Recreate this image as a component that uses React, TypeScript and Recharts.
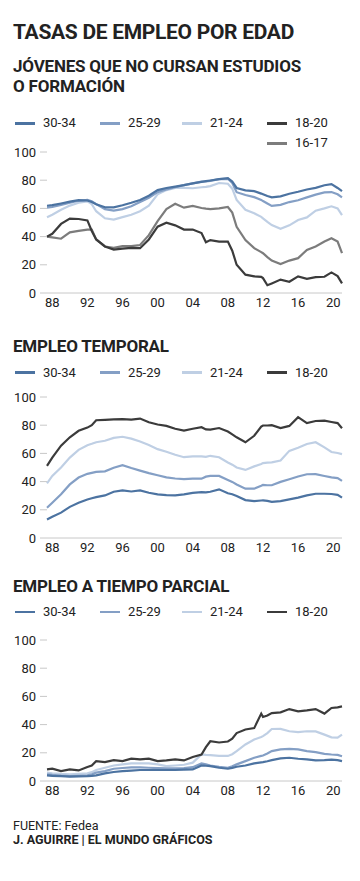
import React from "react";
import { LineChart, Line, XAxis, YAxis } from "recharts";

// años (fracción = trimestre aproximado)
const years = [
  1987.4, 1988, 1989, 1990, 1991, 1992, 1992.5, 1993, 1994, 1995, 1996, 1997, 1998, 1999, 2000,
  2001, 2002, 2003, 2004, 2005, 2005.5, 2006, 2007, 2008, 2008.5, 2009, 2010, 2011, 2011.8,
  2012, 2012.5, 2013, 2014, 2015, 2016, 2017, 2018, 2019, 2019.8, 2020.5, 2021,
];

const xTicks = [1988, 1992, 1996, 2000, 2004, 2008, 2012, 2016, 2020];
const yTicks = [0, 20, 40, 60, 80, 100];

// Jóvenes que no cursan estudios o formación
const ninis3034 = [
  61.9, 62.3, 63.5, 64.8, 65.9, 65.6, 64.5, 63, 60.8, 60.7, 62.2, 64, 66, 69, 73,
  74.5, 75.5, 76.5, 77.8, 78.8, 79.3, 79.8, 80.8, 81.5, 79, 74.5, 72.8, 72.2, 70.5,
  70, 68.8, 67.8, 68.5, 70.4, 71.8, 73.4, 74.6, 76.4, 77.2, 74.5, 72.2,
];
const ninis2529 = [
  60.5, 61, 62.5, 64, 65.4, 66, 65, 63, 59.5, 58.5, 59.5, 61.5, 64.5, 67.5, 71.5,
  73.5, 75, 76.5, 77.8, 79, 79.2, 79.5, 80.8, 81, 78, 71.5, 69.5, 68, 66,
  65.2, 63.5, 61.8, 62.5, 64.5, 65.8, 67.8, 69.8, 71.3, 71.6, 70, 67.8,
];
const ninis2124 = [
  53.8, 55.5, 59, 62, 64, 65, 63, 58, 53, 52, 53.8, 55.5, 58, 62, 70,
  73, 74.5, 74.5, 74.3, 75, 75.3, 75.8, 78, 77.5, 74, 66, 59, 56.5, 54,
  53, 50.5, 48.2, 45.5, 48, 51.8, 53.6, 58.4, 60, 61.5, 60, 55.3,
];
const ninis1820 = [
  40, 42, 49, 52.8, 52.5, 51.5, 44, 38, 33, 30.8, 31.5, 32, 31.8, 38, 47,
  49.8, 48, 45, 45, 42.5, 36, 37.5, 36.5, 36.5, 30, 20, 13, 11.8, 11.5,
  10.6, 5.5, 6.8, 9.5, 8, 11.8, 10, 11.3, 11.5, 14.6, 12, 6.8,
];
const ninis1617 = [
  40, 39.5, 38.5, 43, 44, 45, 45, 38, 33, 32, 33.2, 33.2, 34, 41, 51,
  59.5, 63.3, 60.5, 61.8, 60.3, 59.8, 59.5, 60, 61, 57, 47, 37.5, 31.8, 29,
  28.2, 25.5, 23, 20.5, 23, 24.7, 30.6, 33, 36.5, 38.8, 36.5, 28.2,
];

// Empleo temporal
const temp3034 = [
  13.1, 15, 18, 22.1, 25, 27.3, 28.2, 29, 30.2, 32.8, 33.8, 33, 33.8, 32.1, 31,
  30.4, 30.2, 31, 32, 32.6, 32.4, 32.8, 34.5, 31.7, 31, 29.8, 26.9, 26.2, 26.6,
  26.7, 26.3, 25.6, 26.2, 27.4, 28.6, 30.2, 31.4, 31.4, 31.2, 30.6, 28.6,
];
const temp2529 = [
  21.4, 25, 31, 38, 42.9, 45.5, 46.2, 46.9, 47.3, 49.8, 51.7, 49.6, 47.8, 46, 44.5,
  43, 42.2, 41.7, 42.1, 42.1, 43.5, 44, 44, 41.2, 39.8, 38, 35, 35, 37,
  37.6, 37.4, 37.4, 39.8, 41.7, 43.6, 45.2, 45.3, 44, 43, 42.5, 40.5,
];
const temp2124 = [
  38.8, 44, 50, 57, 62.5, 65.8, 66.8, 67.9, 69, 71, 71.8, 70.5, 68.5, 66, 63,
  61.2, 59, 57.3, 57.9, 57.9, 57.5, 58.3, 57.3, 53.6, 52, 50, 48.3, 50.8, 52.5,
  53.1, 53.4, 53.6, 55, 61.8, 64, 66.7, 67.9, 64.3, 61, 60.3, 59.5,
];
const temp1820 = [
  51.2, 57, 65.5, 71.4, 76, 78.3, 80, 83.5, 83.8, 84.2, 84.3, 84, 84.7, 82.1, 80.5,
  79.5, 77.5, 76.2, 77.5, 78.6, 77, 76.9, 78, 75.5, 73.5, 71.4, 67.9, 72.5, 79,
  79.8, 79.8, 80, 77.9, 79.5, 85.7, 81.5, 83, 83.3, 82.3, 81.5, 77.9,
];

// Empleo a tiempo parcial
const parc3034 = [
  4, 3.7, 3.4, 3.1, 3.3, 3.5, 3.7, 4, 5.4, 6.4, 7, 7.4, 7.8, 7.8, 7.8,
  7.8, 7.8, 8, 8.2, 11, 10.8, 10.6, 9.4, 8.7, 9.3, 10.1, 11, 12.5, 13.2,
  13.4, 14, 14.8, 16, 16.5, 15.8, 15.3, 14.6, 14.8, 15.2, 14.8, 14.1,
];
const parc2529 = [
  4.7, 4.3, 3.8, 3.5, 3.7, 4, 4.8, 5.9, 7, 8.7, 9.2, 9.6, 9.6, 9.4, 9.2,
  9, 8.9, 9.2, 9.8, 12.5, 11.8, 11, 10.1, 9.4, 10.5, 11.8, 14.1, 16.5, 17.8,
  18.1, 19.5, 21.2, 22.4, 22.8, 22.4, 21.2, 20.5, 19.3, 18.8, 18.5, 17.6,
];
const parc2124 = [
  5.9, 5.5, 5, 4.7, 5, 5.4, 6.3, 7.8, 9.4, 11, 11.8, 12.5, 12.5, 12.5, 11.8,
  10.6, 11, 11.5, 13, 18.8, 18.5, 18.4, 17.8, 17.8, 19, 21.2, 25.9, 29.4, 31.2,
  31.8, 34, 36.9, 37, 35.3, 34.6, 35.3, 35.2, 32.9, 31, 30.8, 32.9,
];
const parc1820 = [
  8.2, 8.7, 7, 8.2, 7.5, 9.9, 11, 14.1, 13.4, 14.8, 14.1, 15.8, 15.3, 15.8, 14.1,
  14.6, 15.3, 14.6, 17, 18.8, 24, 28.2, 27.3, 28, 30, 34, 36.5, 37.5, 47.8,
  45.4, 46.5, 48.2, 48.7, 51, 49.4, 50.1, 51, 47.8, 51.8, 52.2, 52.9,
];

const colors: Record<string, string> = {
  "30-34": "#4c73a1",
  "25-29": "#849fc5",
  "21-24": "#bfcfe4",
  "18-20": "#3b3b3b",
  "16-17": "#7c7c7c",
};

const font = "Roboto, 'Noto Sans', sans-serif";
const ink = "#222";

type Serie = { name: string; values: number[] };

function buildRows(series: Serie[]) {
  return years.map((y, i) => {
    const row: Record<string, number> = { year: y };
    series.forEach((s) => (row[s.name] = s.values[i]));
    return row;
  });
}

const legendX = [15, 100, 182, 267];

function Legend({ names, top }: { names: string[]; top: number }) {
  return (
    <>
      {names.map((n, i) => {
        // el quinto elemento pasa a la segunda fila, bajo la última columna
        const row = i < 4 ? 0 : 1;
        const left = i < 4 ? legendX[i] : legendX[3];
        const y = top + row * 20;
        return (
          <div key={n}>
            <div
              style={{
                position: "absolute",
                left,
                top: y - 1.2,
                width: 20,
                height: 2.5,
                background: colors[n],
              }}
            />
            <div
              style={{
                position: "absolute",
                left: left + 28,
                top: y - 7,
                fontSize: 13,
                lineHeight: "14px",
                color: ink,
              }}
            >
              {n}
            </div>
          </div>
        );
      })}
    </>
  );
}

function Chart({ series, top }: { series: Serie[]; top: number }) {
  const rows = buildRows(series);
  return (
    <div style={{ position: "absolute", left: 0, top }}>
      <LineChart width={360} height={181} data={rows} margin={{ top: 10, right: 18, bottom: 0, left: 0 }}>
        <XAxis
          dataKey="year"
          type="number"
          domain={[1987.4, 2021]}
          ticks={xTicks}
          tickFormatter={(v: number) => String(v).slice(2)}
          tickLine={false}
          tickSize={0}
          tickMargin={5}
          height={30}
          axisLine={{ stroke: "#c8c8c8" }}
          tick={{ fill: ink, fontSize: 13, fontFamily: font }}
          interval={0}
        />
        <YAxis
          domain={[0, 100]}
          ticks={yTicks}
          width={47}
          axisLine={false}
          tickSize={7}
          tickMargin={4}
          tickLine={{ stroke: "#c8c8c8" }}
          tick={{ fill: ink, fontSize: 13, fontFamily: font }}
          interval={0}
        />
        {series.map((s) => (
          <Line
            key={s.name}
            dataKey={s.name}
            stroke={colors[s.name]}
            strokeWidth={2.2}
            dot={false}
            type="linear"
            isAnimationActive={false}
          />
        ))}
      </LineChart>
    </div>
  );
}

const ninis: Serie[] = [
  { name: "21-24", values: ninis2124 },
  { name: "25-29", values: ninis2529 },
  { name: "30-34", values: ninis3034 },
  { name: "16-17", values: ninis1617 },
  { name: "18-20", values: ninis1820 },
];
const temporal: Serie[] = [
  { name: "21-24", values: temp2124 },
  { name: "25-29", values: temp2529 },
  { name: "30-34", values: temp3034 },
  { name: "18-20", values: temp1820 },
];
const parcial: Serie[] = [
  { name: "21-24", values: parc2124 },
  { name: "25-29", values: parc2529 },
  { name: "30-34", values: parc3034 },
  { name: "18-20", values: parc1820 },
];

const heading = (top: number, size = 17, spacing = -0.2): React.CSSProperties => ({
  position: "absolute",
  left: 13,
  top,
  fontSize: size,
  fontWeight: 700,
  lineHeight: `${size}px`,
  letterSpacing: spacing,
  color: ink,
  whiteSpace: "nowrap",
});

export default function App() {
  return (
    <div
      style={{
        position: "absolute",
        left: 0,
        top: 0,
        width: 360,
        height: 881,
        background: "#fff",
        fontFamily: font,
        overflow: "hidden",
      }}
    >
      <div style={heading(21.5, 21, -0.3)}>TASAS DE EMPLEO POR EDAD</div>
      <div style={{ ...heading(56.4), lineHeight: "20px" }}>
        JÓVENES QUE NO CURSAN ESTUDIOS
        <br />O FORMACIÓN
      </div>
      <Legend names={["30-34", "25-29", "21-24", "18-20", "16-17"]} top={123.3} />
      <Chart series={ninis} top={142} />

      <div style={heading(337.5)}>EMPLEO TEMPORAL</div>
      <Legend names={["30-34", "25-29", "21-24", "18-20"]} top={372.5} />
      <Chart series={temporal} top={387} />

      <div style={heading(577.5)}>EMPLEO A TIEMPO PARCIAL</div>
      <Legend names={["30-34", "25-29", "21-24", "18-20"]} top={612} />
      <Chart series={parcial} top={630} />

      <div style={{ position: "absolute", left: 13, top: 818.5, fontSize: 12.5, lineHeight: "14px", color: ink }}>
        FUENTE: Fedea
      </div>
      <div
        style={{
          position: "absolute",
          left: 13,
          top: 833,
          fontSize: 12.5,
          lineHeight: "14px",
          fontWeight: 700,
          color: ink,
        }}
      >
        J. AGUIRRE | EL MUNDO GRÁFICOS
      </div>
    </div>
  );
}
